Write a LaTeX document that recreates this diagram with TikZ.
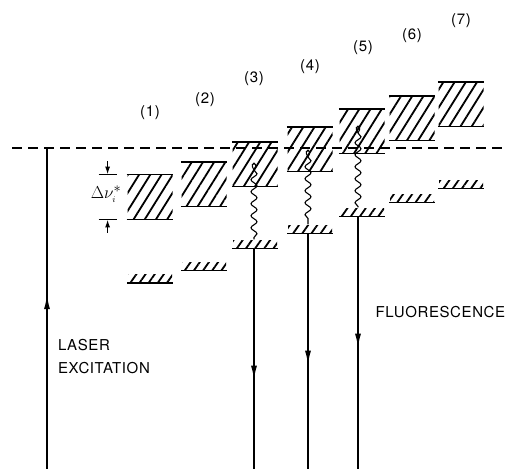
\documentclass[tikz,border=0pt]{standalone}
\usepackage{fontspec}
\setmainfont{TeX Gyre Heros}
\newfontfamily\spacedfont[LetterSpace=4]{TeX Gyre Heros}
\usetikzlibrary{arrows.meta,patterns.meta,decorations.pathmorphing,decorations.markings}

\begin{document}
\begin{tikzpicture}[x=1pt,y=-1pt,>={Latex[length=14pt,width=6pt]},line width=1.4pt,
    font=\spacedfont\fontsize{15}{23}\selectfont]
    \tikzset{
        upper/.style={minimum width=45pt, minimum height=43pt, inner sep=0pt,
            pattern={Lines[angle=58,distance=9.5pt,line width=1.8pt]}},
        lower/.style={minimum width=44pt, minimum height=8pt, inner sep=0pt,
            pattern={Lines[angle=55,distance=7.5pt,line width=1.8pt]}},
        wiggle/.style={decorate, decoration={snake, amplitude=3pt, segment length=12pt}},
        midarrow/.style={postaction={decorate, decoration={markings, mark=at position #1 with {\arrow{>}}}}},
        tick/.style={{Latex[length=8pt,width=5pt]}-}
    }
    \useasboundingbox (0,0) rectangle (507,469);
    % energy levels of the seven sites
    \foreach \n/\x/\yu/\yl in {1/150/197/278, 2/204/184/266, 3/255/164/244, 4/310/149/229,
        5/362/131/212, 6/412/118/198, 7/461/104/184}{
        \node[upper] (u\n) at (\x,\yu) {};
        \draw (u\n.north west) -- (u\n.north east) (u\n.south west) -- (u\n.south east);
        \node[lower] (l\n) at (\x,\yl) {};
        \draw (l\n.south west) -- (l\n.south east);
    }
    \foreach \n/\x/\y in {1/150/113, 2/205/100, 3/254/79, 4/310/67, 5/363/48, 6/412/36, 7/461/21}
        \node (lab\n) at (\x,\y) {(\n)};
    % laser line
    \coordinate (dashL) at (12,148);
    \coordinate (dashR) at (507,148);
    \draw[dash pattern=on 10pt off 6pt] (dashL) -- (dashR);
    \coordinate (laserbot) at (47,469);
    \draw[midarrow=174pt] (laserbot) -- (laserbot |- dashL);
    \node[anchor=west, align=left] (laser) at (54,357) {LASER\\EXCITATION};
    % width of the band
    \draw ([xshift=-28pt]u1.north west) -- ([xshift=-10pt]u1.north west);
    \draw ([xshift=-28pt]u1.south west) -- ([xshift=-10pt]u1.south west);
    \draw[tick] ([xshift=-19pt]u1.north west) -- ([xshift=-19pt,yshift=14pt]u1.north west);
    \draw[tick] ([xshift=-19pt]u1.south west) -- ([xshift=-19pt,yshift=-14pt]u1.south west);
    \node (dnu) at (106,194) {\fontsize{19}{21}\selectfont$\Delta\nu^{*}_{\scriptscriptstyle i}$};
    % relaxation and fluorescence
    \foreach \n/\x/\y in {3/254/170, 4/308/157, 5/358/133}{
        \coordinate (c\n) at (\x,\y);
        \coordinate (f\n) at (\x,469);
        \draw[line width=1.1pt] (c\n) .. controls +(-6,-9) and +(6,-9) .. (c\n);
        \draw[line width=1.1pt, wiggle] (c\n) -- (c\n |- l\n.north);
        \draw[midarrow=131pt] (l\n.south -| f\n) -- (f\n);
    }
    \node[anchor=west, inner sep=1pt] (fluor) at (374,312) {FLUORESCENCE};
\end{tikzpicture}
\end{document}
